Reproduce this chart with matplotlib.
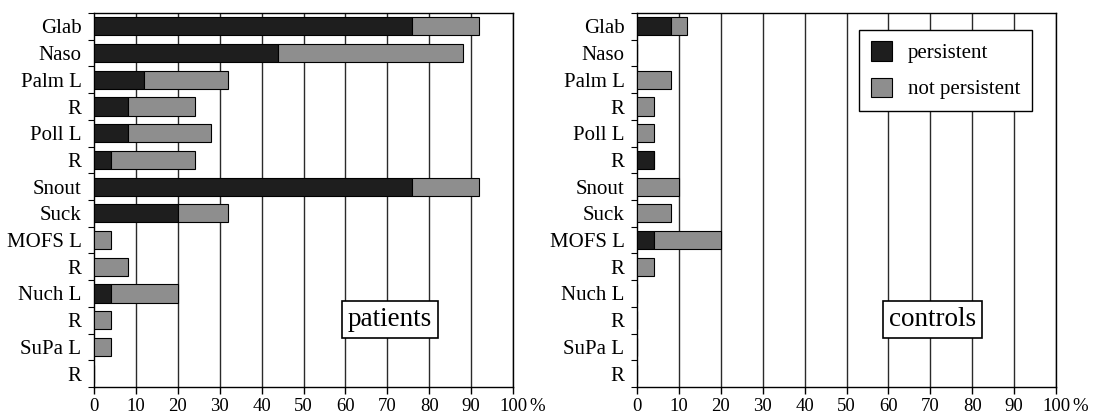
import numpy as np
import matplotlib
matplotlib.use("Agg")
import matplotlib.pyplot as plt
from matplotlib.patches import Patch
from matplotlib.transforms import blended_transform_factory

plt.rcParams['font.family'] = ['Liberation Serif', 'DejaVu Serif']

reflexes = ["Glab", "Naso", "Palm L", "R", "Poll L", "R", "Snout", "Suck",
            "MOFS L", "R", "Nuch L", "R", "SuPa L", "R"]

# percentages
patients_persistent = [76, 44, 12, 8, 8, 4, 76, 20, 0, 0, 4, 0, 0, 0]
patients_not_persistent = [16, 44, 20, 16, 20, 20, 16, 12, 4, 8, 16, 4, 4, 0]
controls_persistent = [8, 0, 0, 0, 0, 4, 0, 0, 4, 0, 0, 0, 0, 0]
controls_not_persistent = [4, 0, 8, 4, 4, 0, 10, 8, 16, 4, 0, 0, 0, 0]

dark = '#1e1e1e'
grey = '#8e8e8e'

fig = plt.figure(figsize=(10.93, 4.17), dpi=100)
ax1 = fig.add_axes([94 / 1093, 30 / 417, 419 / 1093, 374 / 417])
ax2 = fig.add_axes([637 / 1093, 30 / 417, 419 / 1093, 374 / 417])


def panel(ax, pers, notpers, name):
    y = np.arange(len(reflexes))
    pers = np.array(pers)
    notpers = np.array(notpers)
    for x in range(10, 101, 10):
        ax.axvline(x, color='#2a2a2a', lw=1.0, zorder=1)
    ax.barh(y, pers, height=0.68, color=dark, edgecolor='black', lw=0.8, zorder=3)
    ax.barh(y, notpers, left=pers, height=0.68, color=grey, edgecolor='black',
            lw=0.8, zorder=3)
    ax.set_xlim(0, 100)
    ax.set_ylim(len(reflexes) - 0.5, -0.5)
    ax.set_yticks(y)
    ax.set_yticklabels(reflexes, fontsize=15)
    ax.set_yticks(np.arange(len(reflexes) + 1) - 0.5, minor=True)
    ax.tick_params(axis='y', which='major', length=0, pad=9)
    ax.tick_params(axis='y', which='minor', length=4, width=0.8, direction='out')
    ax.set_xticks(range(0, 101, 10))
    ax.tick_params(axis='x', length=5, width=1, direction='out', labelsize=13.5, pad=3)
    for s in ax.spines.values():
        s.set_linewidth(1.0)
    trans = blended_transform_factory(ax.transData, ax.transAxes)
    ax.annotate('%', xy=(100, 0), xycoords=trans, xytext=(11.5, -8),
                textcoords='offset points', fontsize=13.5, va='top', ha='left')
    ax.text(70.6, 0.18, name, transform=trans, fontsize=19.5, ha='center',
            va='center', zorder=5,
            bbox=dict(boxstyle='square,pad=0.22', fc='white', ec='black', lw=1.2))


panel(ax1, patients_persistent, patients_not_persistent, 'patients')
panel(ax2, controls_persistent, controls_not_persistent, 'controls')

handles = [Patch(facecolor=dark, edgecolor='black', lw=0.8),
           Patch(facecolor=grey, edgecolor='black', lw=0.8)]
leg = ax2.legend(handles, ['persistent', 'not persistent'], loc='upper left',
                 bbox_to_anchor=(0.53, 0.955), borderaxespad=0, fontsize=15,
                 frameon=True, fancybox=False, edgecolor='black', framealpha=1,
                 handlelength=1.05, handleheight=1.05, labelspacing=0.7,
                 handletextpad=0.75, borderpad=0.55)
leg.get_frame().set_linewidth(1.0)
leg.set_zorder(6)

fig.savefig('out.png', dpi=100)
